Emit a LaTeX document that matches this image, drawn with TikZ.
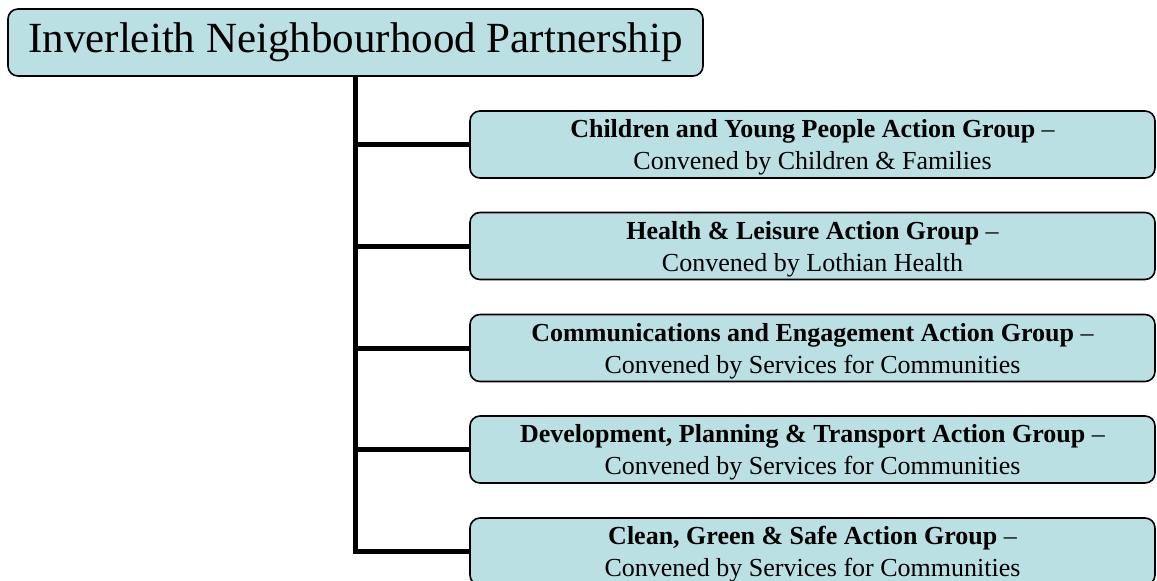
\documentclass[tikz,border=0pt]{standalone}
\usepackage{fontspec}
\setmainfont{Liberation Serif}
\definecolor{boxfill}{HTML}{BBE0E3}
\newcommand{\grouptext}[2]{\raisebox{-3pt}[\height][\depth]{\begin{tabular}{@{}c@{}}\textbf{#1} –\\#2\end{tabular}}}
\begin{document}
\begin{tikzpicture}[x=1pt,y=-1pt,
  box/.style={draw=black, line width=1.6pt, fill=boxfill, rounded corners=10pt, inner sep=0pt},
  topbox/.style={box, minimum width=695pt, minimum height=67pt, font=\fontsize{43}{48}\selectfont},
  groupbox/.style={box, minimum width=685pt, minimum height=67pt, font=\fontsize{26}{32}\selectfont},
  link/.style={line width=5pt}]
\clip (0,0) rectangle (1157,581);
\node[topbox] (top) at (355.5,42.5) {Inverleith Neighbourhood Partnership};
\node[groupbox] (g1) at (812.5,144.5) {\grouptext{Children and Young People Action Group}{Convened by Children \& Families}};
\node[groupbox] (g2) at (812.5,246) {\grouptext{Health \& Leisure Action Group}{Convened by Lothian Health}};
\node[groupbox] (g3) at (812.5,348) {\grouptext{Communications and Engagement Action Group}{Convened by Services for Communities}};
\node[groupbox] (g4) at (812.5,449.5) {\grouptext{Development, Planning \& Transport Action Group}{Convened by Services for Communities}};
\node[groupbox] (g5) at (812.5,551.5) {\grouptext{Clean, Green \& Safe Action Group}{Convened by Services for Communities}};
\draw[link] (top.south) |- (g5.west);
\foreach \g in {g1,g2,g3,g4} \draw[link] (top.south |- \g.west) -- (\g.west);
\end{tikzpicture}
\end{document}
